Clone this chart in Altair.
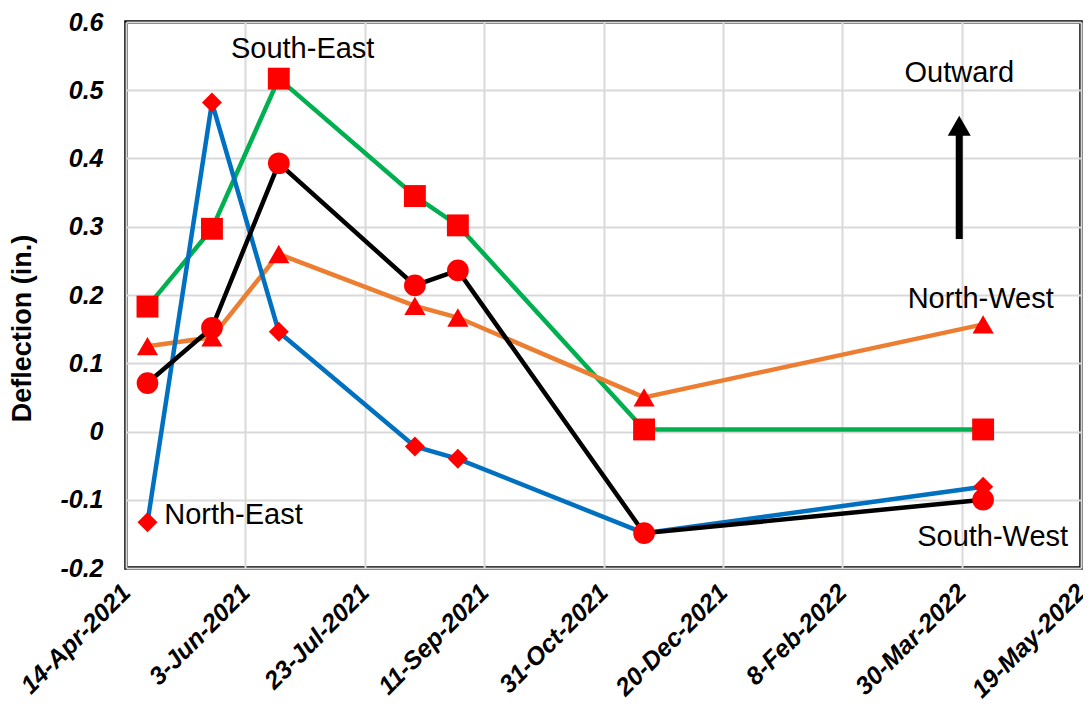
import altair as alt
import pandas as pd

# ---- data ----
dates = ["2021-04-23", "2021-05-20", "2021-06-17", "2021-08-13",
         "2021-08-31", "2021-11-17", "2022-04-08"]
south_east = [0.183, 0.297, 0.517, 0.345, 0.302, 0.003, 0.003]
north_east = [-0.133, 0.482, 0.146, -0.022, -0.040, -0.149, -0.081]
south_west = [0.071, 0.152, 0.393, 0.214, 0.236, -0.149, -0.100]
north_west = [0.125, 0.138, 0.260, 0.184, 0.167, 0.050, 0.157]

tick_dates = ["2021-04-14", "2021-06-03", "2021-07-23", "2021-09-11",
              "2021-10-31", "2021-12-20", "2022-02-08", "2022-03-30",
              "2022-05-19"]
y_ticks = [-0.2, -0.1, 0.0, 0.1, 0.2, 0.3, 0.4, 0.5, 0.6]

label_text = ["South-East", "North-East", "North-West", "South-West", "Outward"]
label_date = ["2021-06-27", "2021-04-30", "2022-04-07", "2022-04-12", "2022-03-29"]
label_value = [0.560, -0.122, 0.194, -0.155, 0.525]
label_align = ["center", "left", "center", "center", "center"]

arrow_date = "2022-03-29"
arrow_from = 0.282
arrow_to = 0.44
arrow_head = 0.448

FONT = "Liberation Sans"


def ms(d):
    return int(pd.Timestamp(d, tz="UTC").value // 10**6)


series = [
    ("South-East", south_east, "#00B050", "square", 480),
    ("North-West", north_west, "#ED7D31", "triangle-up", 450),
    ("North-East", north_east, "#0070C0", "diamond", 400),
    ("South-West", south_west, "#000000", "circle", 470),
]

rows = []
for name, vals, *_ in series:
    for d, v in zip(dates, vals):
        rows.append({"series": name, "date": ms(d), "value": v})
df = pd.DataFrame(rows)

x_scale = alt.Scale(type="utc", domain=[ms(tick_dates[0]), ms(tick_dates[-1])])
y_scale = alt.Scale(domain=[-0.2, 0.6], nice=False, zero=False)

x_axis = alt.Axis(
    values=[ms(d) for d in tick_dates],
    labelExpr="utcFormat(datum.value, '%-d-%b-%Y')",
    title=None, labelAngle=-45, labelAlign="right", labelBaseline="middle",
    labelFont=FONT, labelFontSize=25, labelFontWeight="bold",
    labelFontStyle="italic", labelColor="black", labelPadding=20,
    ticks=False, tickSize=0, domain=False, grid=True, gridColor="#d9d9d9",
    gridWidth=2, labelOverlap=False, labelFlush=False,
)
y_axis = alt.Axis(
    values=y_ticks,
    labelExpr="abs(datum.value) < 1e-9 ? '0' : (datum.value < 0 ? '-' : '') + format(abs(datum.value), '.1f')",
    title="Deflection (in.)", titleFont=FONT, titleFontSize=27,
    titleFontWeight="bold", titleColor="black", titleAngle=-90,
    titleX=-104, titleY=306, titleAlign="center", titleBaseline="middle",
    labelFont=FONT, labelFontSize=25, labelFontWeight="bold",
    labelFontStyle="italic", labelColor="black", labelPadding=23,
    ticks=False, tickSize=0, domain=False, grid=True, gridColor="#d9d9d9",
    gridWidth=2, labelOverlap=False, labelFlush=False,
)

X = alt.X("date:T", scale=x_scale, axis=x_axis)
Y = alt.Y("value:Q", scale=y_scale, axis=y_axis)

layers = []
for name, vals, color, shape, size in series:
    layers.append(
        alt.Chart(df).transform_filter(alt.datum.series == name)
        .mark_line(color=color, strokeWidth=4.5)
        .encode(x=X, y=Y)
    )
for name, vals, color, shape, size in series:
    layers.append(
        alt.Chart(df).transform_filter(alt.datum.series == name)
        .mark_point(shape=shape, size=size, filled=True, color="#FF0000",
                    opacity=1, strokeWidth=0)
        .encode(x=X, y=Y)
    )

arrow_df = pd.DataFrame({"date": [ms(arrow_date)], "y1": [arrow_from],
                         "y2": [arrow_to], "yh": [arrow_head]})
arrow_shaft = alt.Chart(arrow_df).mark_rule(color="black", strokeWidth=7).encode(
    x=alt.X("date:T", scale=x_scale), y=alt.Y("y1:Q", scale=y_scale), y2="y2:Q")
arrow_tip = alt.Chart(arrow_df).mark_point(
    shape="triangle-up", size=529, filled=True, color="black", opacity=1,
    strokeWidth=0).encode(x=alt.X("date:T", scale=x_scale),
                          y=alt.Y("yh:Q", scale=y_scale))

lab_df = pd.DataFrame({"text": label_text, "date": [ms(d) for d in label_date],
                       "value": label_value, "align": label_align})
text_layers = []
for al in ["center", "left"]:
    text_layers.append(
        alt.Chart(lab_df).transform_filter(alt.datum.align == al)
        .mark_text(font=FONT, fontSize=29, color="black", align=al,
                   baseline="middle")
        .encode(x=alt.X("date:T", scale=x_scale),
                y=alt.Y("value:Q", scale=y_scale), text="text:N")
    )

chart = alt.layer(*layers, arrow_shaft, arrow_tip, *text_layers).properties(
    width=955, height=546,
    autosize=alt.AutoSizeParams(type="none"),
    padding={"left": 118, "top": 14, "right": 2, "bottom": 132},
    background="white",
).configure_view(stroke="black", strokeWidth=3.5)

chart.save("out.html", embed_options={"renderer": "svg", "actions": False})
